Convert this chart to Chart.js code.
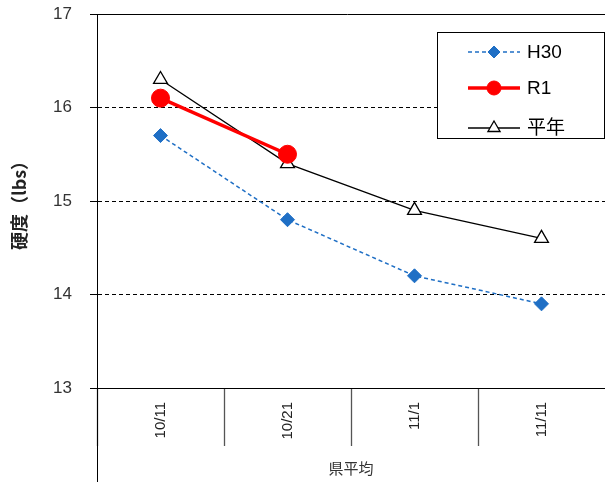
<!DOCTYPE html>
<html lang="ja">
<head>
  <meta charset="UTF-8">
  <title>硬度（lbs）</title>
  <script src="https://cdn.jsdelivr.net/npm/chart.js"></script>
  <style>
    html, body { margin: 0; padding: 0; background: #fff; }
    #wrap { width: 605px; height: 482px; }
  </style>
</head>
<body>
  <div id="wrap"><canvas id="grafico" width="605" height="482"></canvas></div>

  <script>
    // データ
    const categorias = ['10/11', '10/21', '11/1', '11/11'];
    const h30 = [15.7, 14.8, 14.2, 13.9];
    const r1 = [16.1, 15.5, null, null];
    const heinen = [16.3, 15.4, 14.9, 14.6];
    const yTicks = [13, 14, 15, 16, 17];

    const fuente = "'Liberation Sans', 'Noto Sans CJK JP', sans-serif";
    const azul = '#1f6fc5';

    // 枠線・凡例を描くプラグイン
    const extras = {
      id: 'extras',
      afterDraw(chart) {
        const ctx = chart.ctx;
        const a = chart.chartArea;
        ctx.save();
        // 上の実線
        ctx.strokeStyle = '#000';
        ctx.lineWidth = 1;
        ctx.beginPath();
        ctx.moveTo(a.left - 7, a.top + 0.5);
        ctx.lineTo(a.right, a.top + 0.5);
        ctx.stroke();
        // 左軸を下まで延長
        ctx.beginPath();
        ctx.moveTo(a.left + 0.5, a.bottom);
        ctx.lineTo(a.left + 0.5, chart.height);
        ctx.stroke();

        // 凡例
        const bx = 437, by = 32, bw = 167, bh = 106;
        ctx.fillStyle = '#fff';
        ctx.fillRect(bx, by, bw, bh);
        ctx.strokeStyle = '#000';
        ctx.strokeRect(bx + 0.5, by + 0.5, bw, bh);

        const filas = [52, 88, 128];
        const radios = [6, 7, 7];
        chart.data.datasets.forEach((ds, i) => {
          const y = filas[i];
          const x0 = 468, x1 = 520, xm = 494;
          ctx.save();
          ctx.strokeStyle = ds.borderColor;
          ctx.lineWidth = ds.borderWidth;
          ctx.setLineDash(ds.borderDash || []);
          ctx.beginPath();
          ctx.moveTo(x0, y);
          ctx.lineTo(x1, y);
          ctx.stroke();
          ctx.restore();
          ctx.fillStyle = ds.pointBackgroundColor;
          ctx.strokeStyle = ds.pointBorderColor;
          ctx.lineWidth = ds.pointBorderWidth;
          Chart.helpers.drawPoint(ctx, {
            pointStyle: ds.pointStyle,
            radius: radios[i],
            borderWidth: ds.pointBorderWidth
          }, xm, y);
          ctx.fillStyle = '#000';
          ctx.font = '19px ' + fuente;
          ctx.textAlign = 'left';
          ctx.textBaseline = 'middle';
          ctx.fillText(ds.label, 527, y + 1);
        });
        ctx.restore();
      }
    };

    const config = {
      type: 'line',
      data: {
        labels: categorias,
        datasets: [
          {
            label: 'H30',
            data: h30,
            borderColor: azul,
            borderWidth: 1.5,
            borderDash: [4, 3],
            pointStyle: 'rectRot',
            pointRadius: 7,
            pointBackgroundColor: azul,
            pointBorderColor: azul,
            pointBorderWidth: 1
          },
          {
            label: 'R1',
            data: r1,
            borderColor: '#ff0000',
            borderWidth: 3.5,
            pointStyle: 'circle',
            pointRadius: 9,
            pointBackgroundColor: '#ff0000',
            pointBorderColor: '#ff0000',
            pointBorderWidth: 1
          },
          {
            label: '平年',
            data: heinen,
            borderColor: '#000',
            borderWidth: 1.3,
            pointStyle: 'triangle',
            pointRadius: 8,
            pointBackgroundColor: '#fff',
            pointBorderColor: '#000',
            pointBorderWidth: 1.3
          }
        ]
      },
      options: {
        responsive: false,
        animation: false,
        layout: { autoPadding: false, padding: { top: 14, right: -4, left: 0, bottom: 0 } },
        plugins: {
          legend: { display: false },
          tooltip: { enabled: false }
        },
        scales: {
          x: {
            offset: true,
            grid: {
              offset: true,
              drawOnChartArea: false,
              drawTicks: true,
              tickLength: 58,
              // 右端の区切り線は描かない
              tickColor: c => (c.type !== 'tick' ? 'rgba(0,0,0,0)' : '#555'),
              tickWidth: 1.3
            },
            border: { display: true, color: '#000', width: 1 },
            ticks: {
              minRotation: 90,
              maxRotation: 90,
              padding: -44,
              color: '#222',
              font: { family: fuente, size: 15 }
            },
            title: {
              display: true,
              text: '県平均',
              color: '#333',
              font: { family: "'Noto Sans CJK JP', sans-serif", size: 15 },
              padding: { top: 0, bottom: 5 }
            },
            afterFit(scale) {
              scale.height = 94;
              scale.paddingLeft = 0;
              scale.paddingRight = 0;
            }
          },
          y: {
            min: 13,
            max: 17,
            afterBuildTicks(scale) {
              scale.ticks = yTicks.map(v => ({ value: v }));
            },
            grid: {
              color: '#000',
              lineWidth: 1,
              drawTicks: true,
              tickLength: 7,
              tickColor: '#000'
            },
            border: { display: true, color: '#000', width: 1, dash: [4, 3] },
            ticks: {
              padding: 18,
              color: '#333',
              font: { family: fuente, size: 17 }
            },
            title: {
              display: true,
              text: '硬度（lbs）',
              color: '#222',
              font: { family: "'Noto Sans CJK JP', sans-serif", size: 18, weight: 'bold' },
              padding: { top: 8, bottom: 0 }
            },
            afterFit(scale) {
              scale.width = 97;
              scale.paddingTop = 0;
              scale.paddingBottom = 0;
            }
          }
        }
      },
      plugins: [extras]
    };

    new Chart(document.getElementById('grafico').getContext('2d'), config);
  </script>
</body>
</html>
